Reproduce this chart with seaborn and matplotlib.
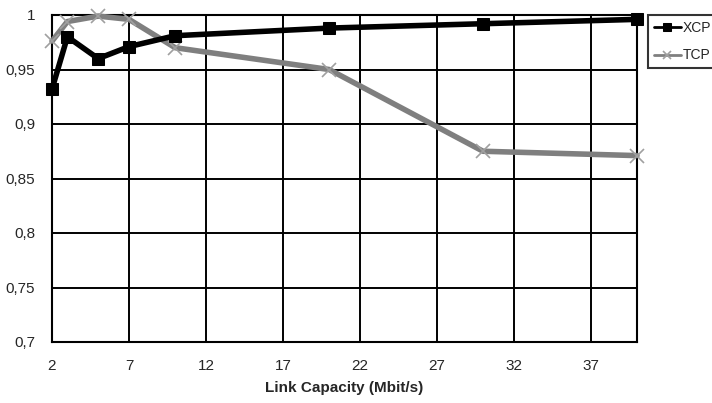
import matplotlib
matplotlib.use("Agg")
import matplotlib.pyplot as plt
import seaborn as sns
import pandas as pd

capacity = [2, 3, 5, 7, 10, 20, 30, 40]
xcp = [0.932, 0.980, 0.960, 0.971, 0.981, 0.988, 0.992, 0.996]
tcp = [0.976, 0.994, 0.999, 0.996, 0.970, 0.950, 0.875, 0.871]
xticks = [2, 7, 12, 17, 22, 27, 32, 37]
yticks = [0.7, 0.75, 0.8, 0.85, 0.9, 0.95, 1.0]
ytick_labels = ["0,7", "0,75", "0,8", "0,85", "0,9", "0,95", "1"]

sns.set_style("white")
plt.rcParams['font.family'] = ['Liberation Sans', 'DejaVu Sans']

df = pd.DataFrame({"cap": capacity, "XCP": xcp, "TCP": tcp})

fig = plt.figure(figsize=(7.12, 4.03), dpi=100)
ax = fig.add_axes([52/712, 1-342/403, (637-52)/712, (342-15)/403])

sns.lineplot(data=df, x="cap", y="XCP", ax=ax, color="black", linewidth=4,
             marker="s", markersize=8, markeredgecolor="black", label="XCP",
             zorder=4, clip_on=False)
sns.lineplot(data=df, x="cap", y="TCP", ax=ax, color="#7f7f7f", linewidth=4,
             marker="x", markersize=10, markeredgewidth=1.2, markeredgecolor="#a0a0a0",
             label="TCP", zorder=3, clip_on=False)

ax.set_xlim(2, 40)
ax.set_ylim(0.7, 1.0)
ax.set_xticks(xticks)
ax.set_xticklabels([str(t) for t in xticks], fontsize=11)
ax.set_yticks(yticks)
ax.set_yticklabels(ytick_labels, fontsize=11)
ax.grid(True, color="black", linewidth=1.4)
ax.set_axisbelow(True)
for s in ax.spines.values():
    s.set_color("black")
    s.set_linewidth(1.5)
ax.tick_params(axis="both", direction="out", length=4, width=1.4, color="black", pad=8)
ax.set_xlabel("Link Capacity (Mbit/s)", fontsize=11, fontweight="bold", labelpad=6)
ax.set_ylabel("")

leg = ax.legend(loc="upper left", bbox_to_anchor=(648/712, 1-15/403),
                bbox_transform=fig.transFigure, frameon=True, fancybox=False,
                fontsize=10, handlelength=2.0, borderpad=0.4, labelspacing=1.0,
                handletextpad=0.1, borderaxespad=0)
leg.get_frame().set_edgecolor("black")
leg.get_frame().set_linewidth(1.5)
for h in leg.get_lines():
    h.set_linewidth(2)
    h.set_markersize(6)

fig.savefig("out.png", dpi=100)
